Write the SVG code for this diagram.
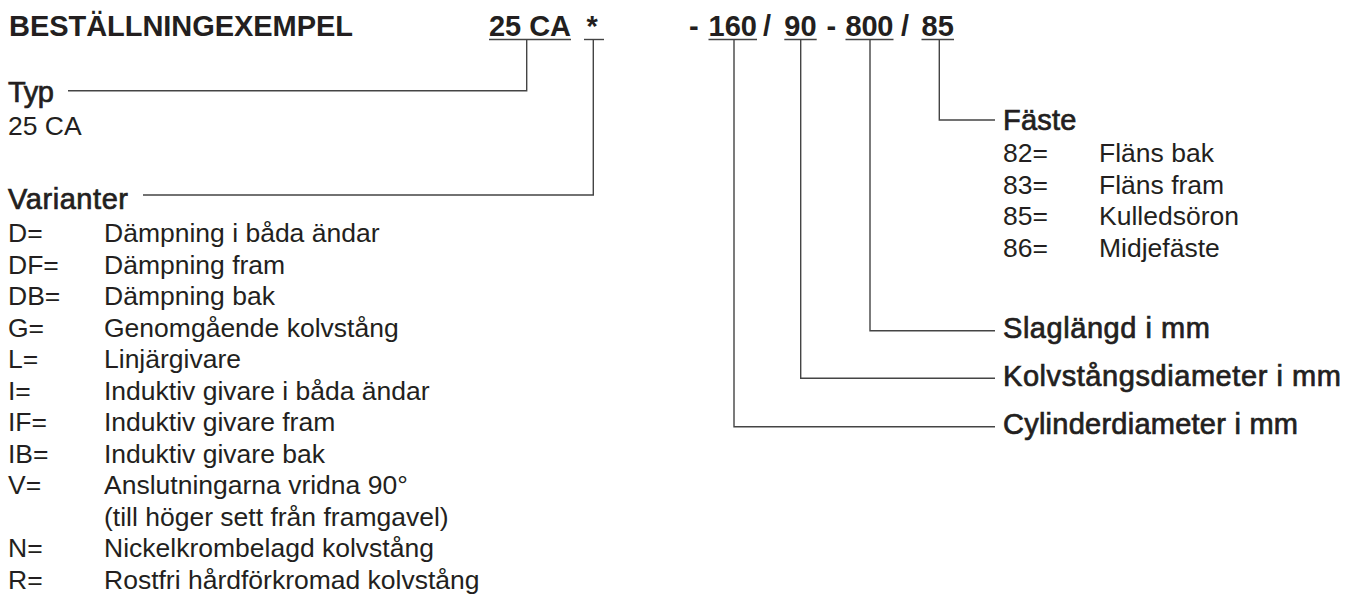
<svg xmlns="http://www.w3.org/2000/svg" width="1351" height="595" viewBox="0 0 1351 595">
<style>
text{font-family:"Liberation Sans",Arial,Helvetica,sans-serif;fill:#231f20}
.b{font-size:29px;font-weight:bold}
.h{font-size:29px;stroke:#231f20;stroke-width:0.7}
.r{font-size:26.5px}
.ln{fill:none;stroke:#444;stroke-width:1.4}
.ul{stroke:#444;stroke-width:1.4}
</style>
<rect width="1351" height="595" fill="#fff"/>
<g id="title">
<text class="b" x="9" y="35.5" textLength="344">BESTÄLLNINGEXEMPEL</text>
</g>
<g id="code">
<text class="b" x="489" y="35.5" textLength="82">25 CA</text>
<text class="b" x="586.5" y="35.5">*</text>
<text class="b" x="689" y="35.5">-</text>
<text class="b" x="708.5" y="35.5" textLength="48.5">160</text>
<text class="b" x="763" y="35.5">/</text>
<text class="b" x="784.3" y="35.5" textLength="32.4">90</text>
<text class="b" x="826.5" y="35.5">-</text>
<text class="b" x="845.5" y="35.5" textLength="48">800</text>
<text class="b" x="901" y="35.5">/</text>
<text class="b" x="921.5" y="35.5" textLength="32.5">85</text>
<line class="ul" x1="489" y1="39.5" x2="571" y2="39.5"/>
<line class="ul" x1="584" y1="39.5" x2="604" y2="39.5"/>
<line class="ul" x1="708.5" y1="39.5" x2="757" y2="39.5"/>
<line class="ul" x1="784.3" y1="39.5" x2="816.7" y2="39.5"/>
<line class="ul" x1="845.5" y1="39.5" x2="893.5" y2="39.5"/>
<line class="ul" x1="921.5" y1="39.5" x2="954" y2="39.5"/>
</g>
<g id="connectors">
<path class="ln" d="M68,90.7 H526.7 V39.5"/>
<path class="ln" d="M143,195 H593.3 V39.5"/>
<path class="ln" d="M734,39.5 V426.7 H995"/>
<path class="ln" d="M800.7,39.5 V378.3 H995"/>
<path class="ln" d="M870,39.5 V330.7 H995"/>
<path class="ln" d="M939.3,39.5 V120 H995"/>
</g>
<g id="typ">
<text class="h" x="8" y="102" textLength="46">Typ</text>
<text class="r" x="8" y="135">25 CA</text>
</g>
<g id="varianter">
<text class="h" x="8" y="208.5" textLength="120">Varianter</text>
<text class="r" x="8" y="242">D=</text><text class="r" x="104" y="242">Dämpning i båda ändar</text>
<text class="r" x="8" y="273.5">DF=</text><text class="r" x="104" y="273.5">Dämpning fram</text>
<text class="r" x="8" y="305">DB=</text><text class="r" x="104" y="305">Dämpning bak</text>
<text class="r" x="8" y="336.5">G=</text><text class="r" x="104" y="336.5">Genomgående kolvstång</text>
<text class="r" x="8" y="368">L=</text><text class="r" x="104" y="368">Linjärgivare</text>
<text class="r" x="8" y="399.5">I=</text><text class="r" x="104" y="399.5">Induktiv givare i båda ändar</text>
<text class="r" x="8" y="431">IF=</text><text class="r" x="104" y="431">Induktiv givare fram</text>
<text class="r" x="8" y="462.5">IB=</text><text class="r" x="104" y="462.5">Induktiv givare bak</text>
<text class="r" x="8" y="494">V=</text><text class="r" x="104" y="494">Anslutningarna vridna 90°</text>
<text class="r" x="104" y="525.5">(till höger sett från framgavel)</text>
<text class="r" x="8" y="557">N=</text><text class="r" x="104" y="557">Nickelkrombelagd kolvstång</text>
<text class="r" x="8" y="588.5">R=</text><text class="r" x="104" y="588.5">Rostfri hårdförkromad kolvstång</text>
</g>
<g id="faste">
<text class="h" x="1003" y="129.5" textLength="73.4">Fäste</text>
<text class="r" x="1003" y="162">82=</text><text class="r" x="1099" y="162">Fläns bak</text>
<text class="r" x="1003" y="193.5">83=</text><text class="r" x="1099" y="193.5">Fläns fram</text>
<text class="r" x="1003" y="225">85=</text><text class="r" x="1099" y="225">Kulledsöron</text>
<text class="r" x="1003" y="256.5">86=</text><text class="r" x="1099" y="256.5">Midjefäste</text>
</g>
<g id="slaglangd">
<text class="h" x="1003" y="338" textLength="207">Slaglängd i mm</text>
</g>
<g id="kolvstangsdiameter">
<text class="h" x="1003" y="386" textLength="338">Kolvstångsdiameter i mm</text>
</g>
<g id="cylinderdiameter">
<text class="h" x="1003" y="434" textLength="295">Cylinderdiameter i mm</text>
</g>
</svg>
